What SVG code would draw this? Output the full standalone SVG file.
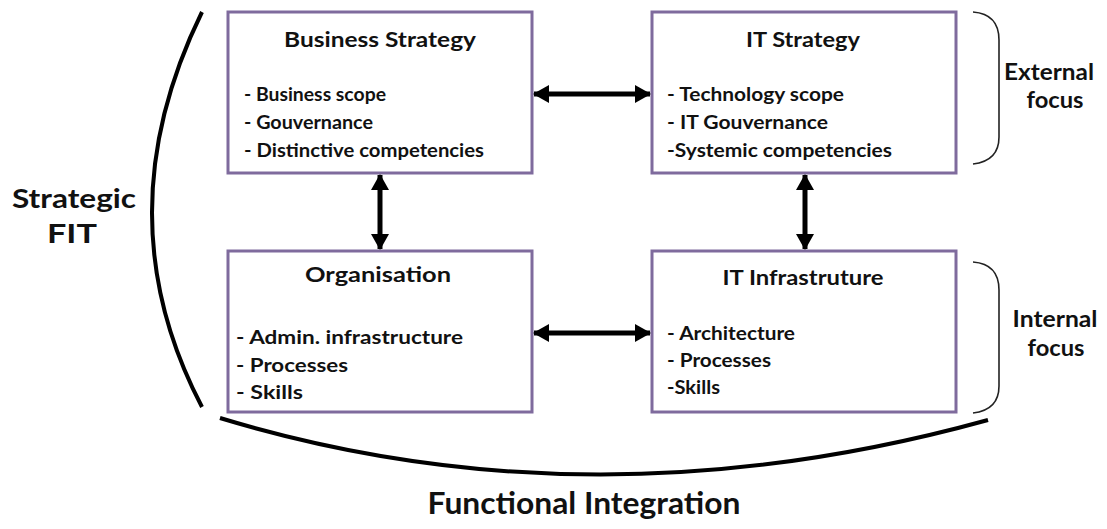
<svg xmlns="http://www.w3.org/2000/svg" width="1107" height="529" viewBox="0 0 1107 529">
<style>
.box{fill:#ffffff;stroke:#7f6b9d;stroke-width:3}
.t{font-family:Lato,"Liberation Sans",sans-serif;font-weight:bold;fill:#111}
.title{font-size:21px}
.item{font-size:18px}
.big{font-size:27px}
.conn{stroke:#000;stroke-width:5;fill:none}
.curve{stroke:#000;stroke-width:4;fill:none}
.brace{stroke:#222;stroke-width:1.6;fill:none}
</style>
<defs>
<marker id="ah" viewBox="0 0 16 18" refX="15" refY="9" markerWidth="16" markerHeight="18" markerUnits="userSpaceOnUse" orient="auto-start-reverse">
<path d="M0,0 L16,9 L0,18 Z" fill="#000"/>
</marker>
</defs>
<rect width="1107" height="529" fill="#fff"/>
<g id="decor">
<path class="curve" d="M202,12 Q102,216 202,407"/>
<path class="curve" d="M220,418 Q590,530 988,420"/>
<path class="brace" d="M973,12 Q999,14 999,40 L999,137 Q999,161 973,164"/>
<path class="brace" d="M973,262 Q999,264 999,290 L999,386 Q999,410 973,413"/>
<text class="t big" x="74" y="208" text-anchor="middle" textLength="124" lengthAdjust="spacingAndGlyphs">Strategic</text>
<text class="t big" x="72" y="243" text-anchor="middle" textLength="50" lengthAdjust="spacingAndGlyphs">FIT</text>
<text class="t" font-size="22" x="1049" y="80" text-anchor="middle" textLength="90" lengthAdjust="spacingAndGlyphs">External</text>
<text class="t" font-size="22" x="1055" y="108" text-anchor="middle" textLength="57" lengthAdjust="spacingAndGlyphs">focus</text>
<text class="t" font-size="22" x="1055" y="327" text-anchor="middle" textLength="85" lengthAdjust="spacingAndGlyphs">Internal</text>
<text class="t" font-size="22" x="1056" y="356" text-anchor="middle" textLength="57" lengthAdjust="spacingAndGlyphs">focus</text>
<text class="t" font-size="30" x="584" y="514" text-anchor="middle" textLength="313" lengthAdjust="spacingAndGlyphs">Functional Integration</text>
</g>
<g id="business-strategy">
<rect class="box" x="228" y="12" width="304" height="161"/>
<text class="t title" x="380" y="47" text-anchor="middle" textLength="192" lengthAdjust="spacingAndGlyphs">Business Strategy</text>
<text class="t item" x="244" y="101" textLength="142" lengthAdjust="spacingAndGlyphs">- Business scope</text>
<text class="t item" x="244" y="129" textLength="129" lengthAdjust="spacingAndGlyphs">- Gouvernance</text>
<text class="t item" x="244" y="157" textLength="240" lengthAdjust="spacingAndGlyphs">- Distinctive competencies</text>
</g>
<g id="it-strategy">
<rect class="box" x="652" y="12" width="304" height="161"/>
<text class="t title" x="803" y="47" text-anchor="middle" textLength="114" lengthAdjust="spacingAndGlyphs">IT Strategy</text>
<text class="t item" x="667" y="101" textLength="177" lengthAdjust="spacingAndGlyphs">- Technology scope</text>
<text class="t item" x="667" y="129" textLength="161" lengthAdjust="spacingAndGlyphs">- IT Gouvernance</text>
<text class="t item" x="667" y="157" textLength="225" lengthAdjust="spacingAndGlyphs">-Systemic competencies</text>
</g>
<g id="organisation">
<rect class="box" x="228" y="251" width="304" height="161"/>
<text class="t title" x="378" y="282" text-anchor="middle" textLength="146" lengthAdjust="spacingAndGlyphs">Organisation</text>
<text class="t item" x="236" y="344" textLength="227" lengthAdjust="spacingAndGlyphs">- Admin. infrastructure</text>
<text class="t item" x="236" y="372" textLength="112" lengthAdjust="spacingAndGlyphs">- Processes</text>
<text class="t item" x="236" y="399" textLength="67" lengthAdjust="spacingAndGlyphs">- Skills</text>
</g>
<g id="it-infrastructure">
<rect class="box" x="652" y="251" width="304" height="161"/>
<text class="t title" x="803" y="285" text-anchor="middle" textLength="161" lengthAdjust="spacingAndGlyphs">IT Infrastruture</text>
<text class="t item" x="667" y="340" textLength="128" lengthAdjust="spacingAndGlyphs">- Architecture</text>
<text class="t item" x="667" y="367" textLength="104" lengthAdjust="spacingAndGlyphs">- Processes</text>
<text class="t item" x="667" y="394" textLength="53" lengthAdjust="spacingAndGlyphs">-Skills</text>
</g>
<g id="connectors">
<line class="conn" x1="534" y1="94" x2="650" y2="94" marker-start="url(#ah)" marker-end="url(#ah)"/>
<line class="conn" x1="534" y1="333" x2="650" y2="333" marker-start="url(#ah)" marker-end="url(#ah)"/>
<line class="conn" x1="380" y1="175" x2="380" y2="249" marker-start="url(#ah)" marker-end="url(#ah)"/>
<line class="conn" x1="805" y1="175" x2="805" y2="249" marker-start="url(#ah)" marker-end="url(#ah)"/>
</g>
</svg>
